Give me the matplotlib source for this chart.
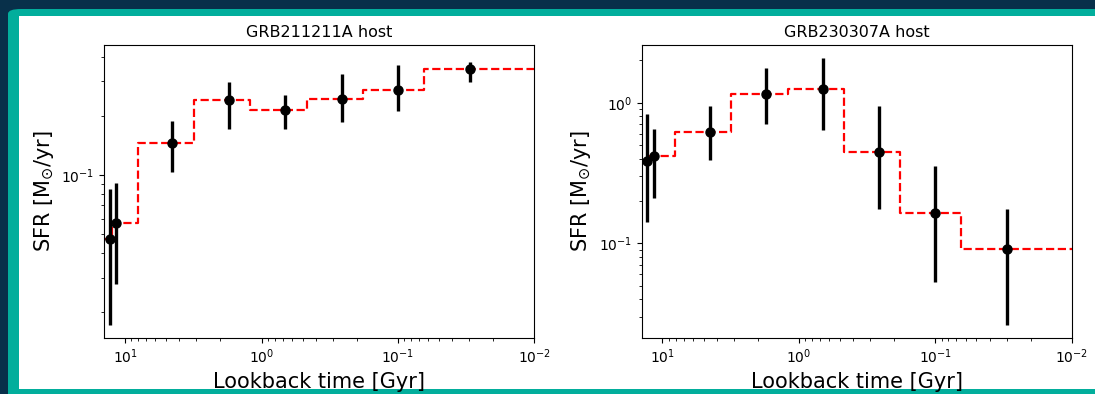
import numpy as np
import matplotlib
matplotlib.use("Agg")
import matplotlib.pyplot as plt
from matplotlib.patches import Rectangle, FancyBboxPatch

# lookback time of the points [Gyr]
t_pts = [12.95, 11.6, 4.5, 1.73, 0.668, 0.258, 0.1, 0.0297]
# bin edges of the step SFH [Gyr]
t_edges = [14.2, 12.4, 8.1, 3.12, 1.21, 0.468, 0.18, 0.0648, 0.01]

# GRB211211A host
sfr_a = [0.0472, 0.0572, 0.145, 0.240, 0.213, 0.245, 0.272, 0.348]
sfr_a_hi = [0.0849, 0.0913, 0.189, 0.296, 0.255, 0.326, 0.363, 0.375]
sfr_a_lo = [0.0172, 0.0278, 0.104, 0.171, 0.172, 0.185, 0.211, 0.297]

# GRB230307A host
sfr_b = [0.385, 0.418, 0.618, 1.148, 1.251, 0.444, 0.165, 0.091]
sfr_b_hi = [0.831, 0.653, 0.952, 1.766, 2.07, 0.952, 0.356, 0.176]
sfr_b_lo = [0.1425, 0.211, 0.393, 0.709, 0.643, 0.176, 0.0528, 0.0262]

titles = ["GRB211211A host", "GRB230307A host"]
ylims = [(0.01486, 0.457), (0.0213, 2.56)]

fig = plt.figure(figsize=(10.95, 3.94), dpi=100)

# slide frame: navy background, teal rounded border, white panel
fig.patches.append(Rectangle((0, 0), 1, 1, transform=fig.transFigure,
                             facecolor="#08304a", edgecolor="none", zorder=-3))
fig.patches.append(FancyBboxPatch((8 / 1095, -0.2), 1.2, 0.2 + 385 / 394,
                                  boxstyle="round,pad=0,rounding_size=0.012",
                                  transform=fig.transFigure,
                                  facecolor="#02ae9c", edgecolor="none", zorder=-2))
fig.patches.append(Rectangle((19 / 1095, 5 / 394), 1.0, 373 / 394,
                             transform=fig.transFigure,
                             facecolor="white", edgecolor="none", zorder=-1))

axes = [fig.add_axes([0.0953, 0.1429, 0.3927, 0.7421]),
        fig.add_axes([0.5860, 0.1429, 0.3927, 0.7421])]

data = [(sfr_a, sfr_a_lo, sfr_a_hi), (sfr_b, sfr_b_lo, sfr_b_hi)]

for ax, (sfr, lo, hi), title, yl in zip(axes, data, titles, ylims):
    sfr = np.array(sfr)
    yerr = [sfr - np.array(lo), np.array(hi) - sfr]
    ax.step(t_edges, list(sfr) + [sfr[-1]], where="post",
            color="red", ls="--", lw=1.6, zorder=2)
    ax.errorbar(t_pts, sfr, yerr=yerr, fmt="o", color="black",
                ms=6.5, elinewidth=2.4, capsize=0, zorder=3)
    ax.set_xscale("log")
    ax.set_yscale("log")
    ax.set_xlim(14.2, 0.01)
    ax.set_ylim(*yl)
    ax.set_title(title, fontsize=11.5)
    ax.set_xlabel("Lookback time [Gyr]", fontsize=15)
    ax.set_ylabel(r"SFR [M$_{\odot}$/yr]", fontsize=15)
    ax.tick_params(labelsize=10)
    ax.set_facecolor("white")

fig.savefig("out.png", dpi=100)
